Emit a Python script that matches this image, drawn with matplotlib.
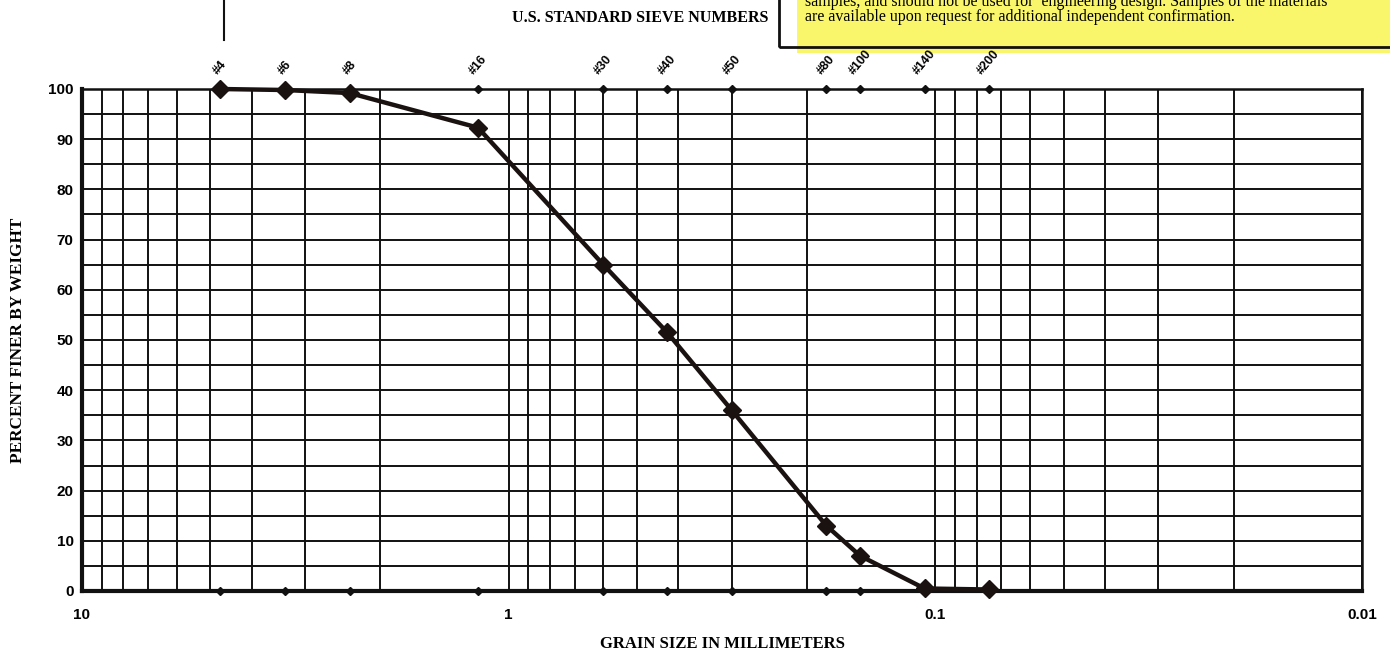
import numpy as np
import matplotlib.pyplot as plt
from matplotlib.lines import Line2D
from matplotlib.patches import Rectangle
from matplotlib.ticker import FixedLocator, NullFormatter

# --- dati: setacci standard U.S. ---
sieve_labels = ['#4', '#6', '#8', '#16', '#30', '#40', '#50', '#80', '#100', '#140', '#200']
sieve_mm = [4.75, 3.35, 2.36, 1.18, 0.60, 0.425, 0.30, 0.18, 0.15, 0.106, 0.075]
percent_finer = [100, 99.8, 99.2, 92.3, 65.0, 51.5, 36.0, 13.0, 7.0, 0.5, 0.3]

x_major = [10, 1, 0.1, 0.01]
x_major_labels = ['10', '1', '0.1', '0.01']
y_major = list(range(0, 101, 10))

note_lines = ['samples, and should not be used for  engineering design. Samples of the materials',
              'are available upon request for additional independent confirmation.']

serif = ['Liberation Serif', 'DejaVu Serif']
narrow = ['Liberation Sans Narrow', 'Liberation Sans', 'DejaVu Sans']

fig = plt.figure(figsize=(13.9, 6.53), dpi=100)
ax = fig.add_axes([82/1390, 1-591/653, (1362-82)/1390, (591-89)/653])

ax.set_xscale('log')
ax.set_xlim(10, 0.01)
ax.set_ylim(0, 100)

# griglia logaritmica
minor = [m * 10.0**e for e in (-2, -1, 0) for m in range(2, 10)]
ax.xaxis.set_major_locator(FixedLocator(x_major))
ax.xaxis.set_minor_locator(FixedLocator(minor))
ax.xaxis.set_minor_formatter(NullFormatter())
ax.set_xticklabels(x_major_labels)
ax.set_yticks(y_major)
ax.set_yticks(range(5, 100, 10), minor=True)
ax.grid(True, which='both', color='#111', lw=1.4)
ax.tick_params(which='both', length=0, pad=6)
for lab in ax.get_xticklabels() + ax.get_yticklabels():
    lab.set_family(narrow)
    lab.set_fontweight('bold')
    lab.set_fontsize(11)
ax.tick_params(axis='x', pad=12)

for side, w in [('left', 3.0), ('bottom', 3.0), ('top', 1.8), ('right', 1.8)]:
    ax.spines[side].set_linewidth(w)
    ax.spines[side].set_color('#111')

# marcatori dei setacci sugli assi
ax.plot(sieve_mm, [100]*len(sieve_mm), 'D', color='#111', ms=4, clip_on=False, zorder=5)
ax.plot(sieve_mm, [0]*len(sieve_mm), 'D', color='#111', ms=4, clip_on=False, zorder=5)
for lab, d in zip(sieve_labels, sieve_mm):
    ax.annotate(lab, (d, 100), xytext=(0, 9), textcoords='offset points',
                rotation=50, ha='center', va='bottom', fontsize=9,
                fontweight='bold', family=narrow, annotation_clip=False)

# curva granulometrica
ax.plot(sieve_mm, percent_finer, '-', color='#1a1210', lw=3.2, marker='D', ms=9,
        clip_on=False, zorder=6)

ax.set_xlabel('GRAIN SIZE IN MILLIMETERS', family=serif, fontweight='bold',
              fontsize=12, labelpad=10)
ax.set_ylabel('PERCENT FINER BY WEIGHT', family=serif, fontweight='bold',
              fontsize=12.4, labelpad=16)

fig.text(640/1390, 1-18/653, 'U.S. STANDARD SIEVE NUMBERS', family=serif,
         fontweight='bold', fontsize=11.5, ha='center', va='center')

# riquadro nota (bianco con evidenziatura gialla), sotto gli assi
fig.add_artist(Rectangle((779/1390, 1-47/653), 640/1390, 60/653,
                         transform=fig.transFigure, facecolor='white',
                         edgecolor='none', zorder=-3))
fig.add_artist(Rectangle((797/1390, 1-53/653), 600/1390, 70/653,
                         transform=fig.transFigure, facecolor='#faf66c',
                         edgecolor='none', zorder=-2))
fig.add_artist(Rectangle((779/1390, 1-47/653), 640/1390, 60/653,
                         transform=fig.transFigure, facecolor='none',
                         edgecolor='#111', lw=2, zorder=-1))
fig.text(805/1390, 1-2/653, note_lines[0], family=serif, fontsize=11.5, va='center')
fig.text(805/1390, 1-17/653, note_lines[1], family=serif, fontsize=11.5, va='center')

# linea verticale in alto a sinistra
fig.add_artist(Line2D([224/1390, 224/1390], [1.0, 1-40/653], transform=fig.transFigure,
                      color='#111', lw=1.5))

fig.savefig('out.png', dpi=100)
